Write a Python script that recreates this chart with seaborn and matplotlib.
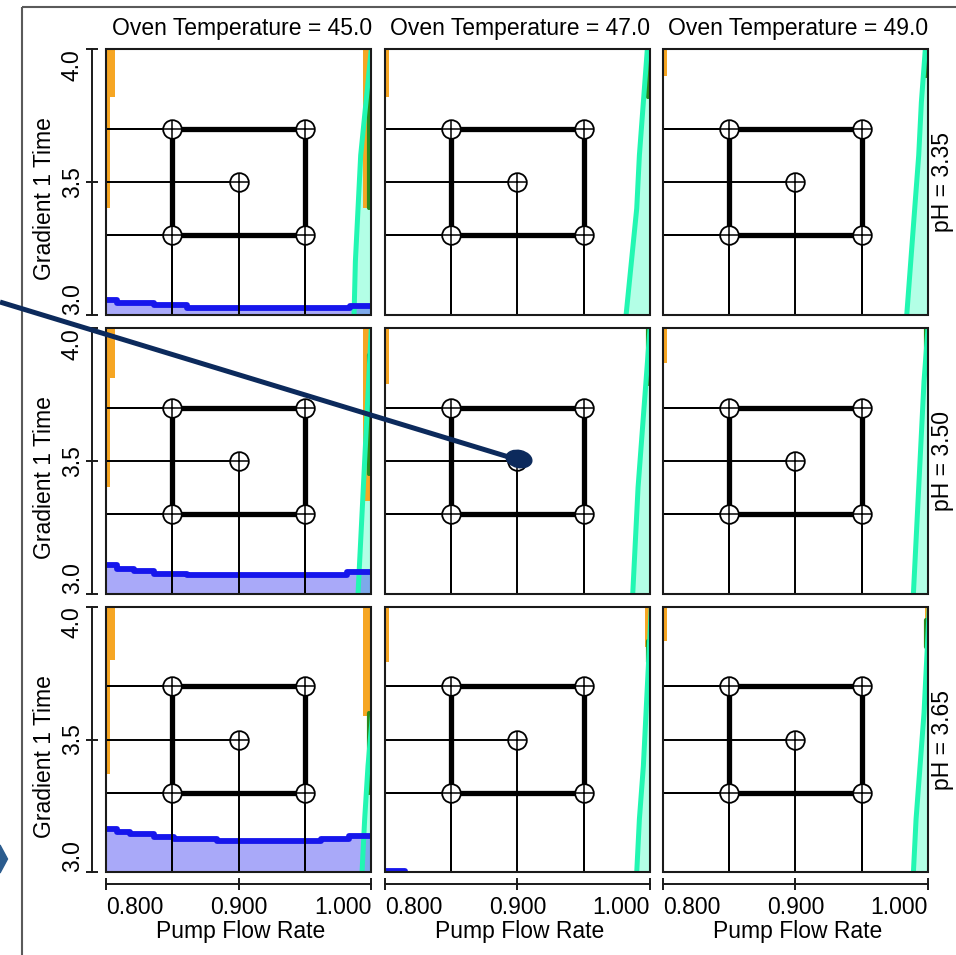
import numpy as np
import pandas as pd
import matplotlib
matplotlib.use("Agg")
import matplotlib.pyplot as plt
import seaborn as sns
from matplotlib.patches import Rectangle, Ellipse, Polygon

sns.set_theme(style="white")
plt.rcParams['font.family'] = ['Liberation Sans', 'DejaVu Sans']

# ---------------- data ----------------
oven_temps = [45.0, 47.0, 49.0]
ph_levels = [3.35, 3.50, 3.65]
x_ticks = [0.800, 0.900, 1.000]
x_tick_labels = ["0.800", "0.900", "1.000"]
y_ticks = [3.0, 3.5, 4.0]
y_tick_labels = ["3.0", "3.5", "4.0"]

design_flow = [0.85, 0.95, 0.85, 0.95, 0.90]
design_grad = [3.3, 3.3, 3.7, 3.7, 3.5]
box_flow = [0.85, 0.95, 0.95, 0.85, 0.85]
box_grad = [3.3, 3.3, 3.7, 3.7, 3.3]

# aquamarine contour (shaded to the right)
cyan_grad = [3.0, 3.2, 3.4, 3.6, 3.8, 4.0]
cyan_flow = [
    [[0.987, 0.988, 0.990, 0.992, 0.996, 1.000],
     [0.982, 0.986, 0.990, 0.992, 0.995, 0.998],
     [0.984, 0.987, 0.990, 0.993, 0.995, 0.998]],
    [[0.990, 0.992, 0.994, 0.996, 0.998, 1.000],
     [0.987, 0.989, 0.991, 0.994, 0.997, 1.000],
     [0.989, 0.991, 0.993, 0.995, 0.997, 1.000]],
    [[0.993, 0.995, 0.9975, 1.001, 1.003, 1.005],
     [0.990, 0.992, 0.995, 0.997, 0.999, 1.001],
     [0.989, 0.991, 0.994, 0.997, 0.999, 1.001]],
]

# blue contour (shaded below), step positions
blue_flow_r1c1 = [0.800, 0.808, 0.836, 0.861, 0.984, 1.000]
blue_grad_r1c1 = [3.055, 3.045, 3.035, 3.026, 3.034, 3.034]
blue_flow_r2c1 = [0.800, 0.808, 0.821, 0.836, 0.861, 0.982, 1.000]
blue_grad_r2c1 = [3.107, 3.094, 3.086, 3.075, 3.069, 3.082, 3.082]
blue_flow_r3c1 = [0.800, 0.808, 0.818, 0.836, 0.851, 0.884, 0.962, 0.983, 1.000]
blue_grad_r3c1 = [3.162, 3.152, 3.143, 3.134, 3.127, 3.118, 3.127, 3.137, 3.137]
blue_flow_r3c2 = [0.800, 0.815]
blue_grad_r3c2 = [3.004, 3.004]

# orange contour slivers
orange_left_bottom = [[3.40, 3.82, 3.90], [3.40, 3.79, 3.87], [3.37, 3.79, 3.87]]
orange_left_wide_from = [3.82, 3.81, 3.80]
orange_right_bottom = [[3.40, 3.82, 3.89], [3.35, 3.79, 3.87], [3.59, 3.85, 3.88]]
orange_right_flow = [[0.9935, 0.997, 0.998], [0.9935, 0.997, 0.998], [0.9935, 0.996, 0.998]]
# green contour slivers (grad from, grad to)
green_right_span = [[(3.40, 3.88), (3.82, 4.00), (3.90, 4.00)],
                    [(3.45, 3.90), (3.79, 4.00), (3.87, 4.00)],
                    [(3.30, 3.60), (3.79, 3.87), (3.85, 3.95)]]

blue_sets = {(0, 0): (blue_flow_r1c1, blue_grad_r1c1),
             (1, 0): (blue_flow_r2c1, blue_grad_r2c1),
             (2, 0): (blue_flow_r3c1, blue_grad_r3c1),
             (2, 1): (blue_flow_r3c2, blue_grad_r3c2)}

# ---------------- style ----------------
ORANGE = '#F6A623'
GREEN = '#2A8A1C'
CYAN_LINE = '#22F7B2'
CYAN_FILL = '#B3FFE6'
BLUE_LINE = '#1616EC'
BLUE_FILL = (0.2, 0.2, 0.95)
FS = 16.5

W, H = 956, 955
fig = plt.figure(figsize=(W / 100, H / 100), dpi=100)
col_left = [106, 384.7, 662.7]
row_top = [49, 328, 606.7]
pw, ph = 265.3, 265.6

df_pts = pd.DataFrame({'flow': design_flow, 'grad': design_grad})
df_box = pd.DataFrame({'flow': box_flow, 'grad': box_grad})

for r in range(3):
    for c in range(3):
        ax = fig.add_axes([col_left[c] / W, 1 - (row_top[r] + ph) / H, pw / W, ph / H])
        ax.set_facecolor('white')

        # aquamarine region
        cx = cyan_flow[r][c]
        ax.fill_betweenx(cyan_grad, cx, 1.02, color=CYAN_FILL, lw=0, zorder=1)

        # blue region
        if (r, c) in blue_sets:
            bx, by = blue_sets[(r, c)]
            ax.fill_between(bx, 2.9, by, step='post', color=BLUE_FILL, alpha=0.42, lw=0, zorder=1.5)

        # orange slivers
        ax.fill_betweenx([orange_left_bottom[r][c], 4.05], 0.79, 0.8033, color=ORANGE, lw=0, zorder=2)
        if c == 0:
            ax.fill_betweenx([orange_left_wide_from[r], 4.05], 0.79, 0.8070, color=ORANGE, lw=0, zorder=2)
        ax.fill_betweenx([orange_right_bottom[r][c], 4.05], orange_right_flow[r][c], 1.01,
                         color=ORANGE, lw=0, zorder=2)
        g0, g1 = green_right_span[r][c]
        ax.plot([0.9985, 0.9985], [g0, g1], color=GREEN, lw=3.0, zorder=2.5)

        ax.plot(cx, cyan_grad, color=CYAN_LINE, lw=3.6, zorder=2.6)
        if (r, c) in blue_sets:
            bx, by = blue_sets[(r, c)]
            ax.step(bx, by, where='post', color=BLUE_LINE, lw=4.2, zorder=2.7)

        # drop lines
        ax.hlines(design_grad, 0.8, design_flow, color='black', lw=1.4, zorder=3)
        ax.vlines(design_flow, 3.0, design_grad, color='black', lw=1.4, zorder=3)

        # design box
        sns.lineplot(data=df_box, x='flow', y='grad', sort=False, estimator=None,
                     color='black', lw=3.8, ax=ax, zorder=4)
        sns.scatterplot(data=df_pts, x='flow', y='grad', ax=ax, marker='o', s=180,
                        color='white', edgecolor='black', linewidth=1.3, zorder=5, legend=False)
        sns.scatterplot(data=df_pts, x='flow', y='grad', ax=ax, marker='+', s=180,
                        color='black', linewidth=1.1, zorder=6, legend=False)

        ax.set_xlim(0.8, 1.0)
        ax.set_ylim(3.0, 4.0)
        ax.set_xlabel('')
        ax.set_ylabel('')

        ax.add_patch(Rectangle((0, 0), 1, 1, transform=ax.transAxes, fill=False,
                               ec='#1a1a1a', lw=1.5, clip_on=False, zorder=10))
        for s in ['top', 'right']:
            ax.spines[s].set_visible(False)

        if c == 0:
            ax.spines['left'].set_position(('outward', 10.1))
            ax.spines['left'].set_color('#1a1a1a')
            ax.spines['left'].set_linewidth(1.4)
            ax.set_yticks(y_ticks)
            ax.set_yticklabels(y_tick_labels, rotation=90, fontsize=FS, color='black')
            ax.tick_params(axis='y', left=True, direction='inout', length=8, width=1.4,
                           pad=2.0, color='#1a1a1a')
            for lab, va in zip(ax.get_yticklabels(), ['bottom', 'center', 'top']):
                lab.set_va(va)
        else:
            ax.spines['left'].set_visible(False)
            ax.set_yticks([])

        if r == 2:
            ax.spines['bottom'].set_position(('outward', 8.6))
            ax.spines['bottom'].set_color('#1a1a1a')
            ax.spines['bottom'].set_linewidth(1.4)
            ax.set_xticks(x_ticks)
            ax.set_xticklabels(x_tick_labels, fontsize=FS, color='black')
            ax.tick_params(axis='x', bottom=True, direction='inout', length=8, width=1.4,
                           pad=4.5, color='#1a1a1a')
            for lab, ha in zip(ax.get_xticklabels(), ['left', 'center', 'right']):
                lab.set_ha(ha)
        else:
            ax.spines['bottom'].set_visible(False)
            ax.set_xticks([])

# titles and labels
for c in range(3):
    xc = (col_left[c] + pw / 2 + 3) / W
    fig.text(xc, 1 - 28 / H, f"Oven Temperature = {oven_temps[c]:.1f}", ha='center',
             va='center', fontsize=FS, color='black')
    fig.text((col_left[c] + pw / 2 + 2) / W, 1 - 931 / H, "Pump Flow Rate", ha='center',
             va='center', fontsize=FS, color='black')
for r in range(3):
    yc = row_top[r] + ph / 2
    fig.text(942 / W, 1 - yc / H, f"pH = {ph_levels[r]:.2f}", rotation=90, ha='center',
             va='center', fontsize=FS, color='black')
    fig.text(45 / W, 1 - (yc + 17) / H, "Gradient 1 Time", rotation=90, ha='center',
             va='center', fontsize=FS, color='black')

# overlay: frame, arrow, diamond
ov = fig.add_axes([0, 0, 1, 1], zorder=20)
ov.set_xlim(0, W)
ov.set_ylim(H, 0)
ov.axis('off')
ov.patch.set_alpha(0)
ov.plot([22, 22], [H, 7], color='#5a5a5a', lw=1.5, solid_capstyle='butt')
ov.plot([22, W], [7, 7], color='#5a5a5a', lw=1.5, solid_capstyle='butt')
ov.plot([0, 512], [302, 458], color='#0C2A5C', lw=3.6, solid_capstyle='butt')
ov.add_patch(Ellipse((519, 459), 26, 17, angle=12, color='#0C2A5C'))
ov.add_patch(Polygon([(0, 845), (7.5, 859), (0, 873)], closed=True, color='#2B5C8E'))

fig.savefig('out.png', dpi=100)
